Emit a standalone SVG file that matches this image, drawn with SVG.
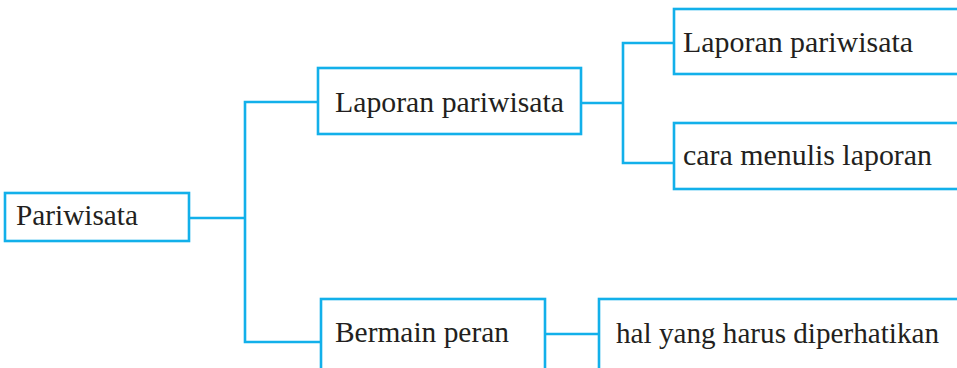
<svg xmlns="http://www.w3.org/2000/svg" width="957" height="368" viewBox="0 0 957 368">
<style>
.box{fill:#fff;stroke:#12b0ea;stroke-width:2.6}
.ln{fill:none;stroke:#12b0ea;stroke-width:2.6}
text{font-family:"Liberation Serif","Times New Roman",serif;font-size:30px;fill:#231f20}
</style>
<rect width="957" height="368" fill="#fff"/>
<g id="connectors">
<path class="ln" d="M189 218H245M318 102H245V342H321"/>
<path class="ln" d="M581 103H623M674 43H623V163H674"/>
<path class="ln" d="M545 334H599"/>
</g>
<g id="n-pariwisata">
<rect class="box" x="5" y="193" width="184" height="48"/>
<text x="16" y="225" textLength="122" lengthAdjust="spacingAndGlyphs">Pariwisata</text>
</g>
<g id="n-laporan">
<rect class="box" x="318" y="68" width="263" height="66"/>
<text x="335" y="112" textLength="229" lengthAdjust="spacingAndGlyphs">Laporan pariwisata</text>
</g>
<g id="n-laporan2">
<rect class="box" x="674" y="9" width="300" height="65"/>
<text x="683" y="52" textLength="230" lengthAdjust="spacingAndGlyphs">Laporan pariwisata</text>
</g>
<g id="n-cara">
<rect class="box" x="674" y="123" width="300" height="66"/>
<text x="683" y="165" textLength="249" lengthAdjust="spacingAndGlyphs">cara menulis laporan</text>
</g>
<g id="n-bermain">
<rect class="box" x="321" y="299" width="224" height="90"/>
<text x="335" y="342" textLength="174" lengthAdjust="spacingAndGlyphs">Bermain peran</text>
</g>
<g id="n-hal">
<rect class="box" x="599" y="299" width="380" height="90"/>
<text x="616" y="343" textLength="323" lengthAdjust="spacingAndGlyphs">hal yang harus diperhatikan</text>
</g>
</svg>
